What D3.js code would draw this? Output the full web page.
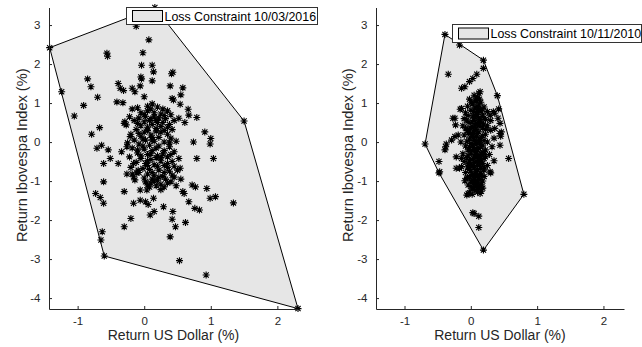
<!DOCTYPE html>
<html>
<head>
<meta charset="utf-8">
<script src="https://cdn.jsdelivr.net/npm/d3@7"></script>
<style>
  html, body { margin: 0; padding: 0; background: #fff; }
  svg { display: block; font-family: "Liberation Sans", Arial, Helvetica, sans-serif; }
</style>
</head>
<body>
<svg id="chart" width="642" height="347"></svg>
<script>
// Daily returns: US Dollar (x, %) vs Ibovespa Index (y, %)
const returns2016 = [
  [-1.42,2.42],[0.16,3.45],[1.50,0.54],[2.31,-4.27],[-0.60,-2.92],
  [-0.12,2.97],[0.07,2.62],[-0.56,2.28],[-0.55,2.20],[-0.02,2.29],[-0.04,1.97],[0.12,1.97],[0.14,1.80],
  [0.43,1.79],[0.41,1.75],[0.12,1.57],[-0.05,1.67],[-0.04,1.62],[-0.85,1.62],[-0.80,1.42],[-0.70,1.15],
  [-1.24,1.29],[-0.91,0.94],[-1.05,0.67],[-0.39,1.50],[-0.36,1.38],[-0.31,1.32],[-0.18,1.38],[-0.14,1.29],
  [-0.06,1.44],[0.00,1.16],[0.39,1.44],[0.58,1.39],[0.42,1.12],[0.44,1.08],[0.55,1.21],[0.54,0.97],
  [0.66,0.84],[0.67,0.69],[0.79,0.63],[0.52,0.61],[0.61,0.50],[0.91,0.26],[1.00,0.09],[0.99,-0.05],
  [0.74,0.00],[1.04,-0.42],[0.79,-0.42],[-0.41,1.03],[-0.32,1.01],[-0.67,0.37],[-0.79,0.20],[-0.64,-0.08],
  [-0.71,-0.16],[-0.54,-0.20],[-0.51,-0.42],[-0.61,-0.55],[-0.39,-0.55],[-0.34,-0.25],[-0.29,0.52],
  [-0.27,0.44],[-0.21,0.14],[-0.26,-0.12],
  [-0.26,-0.82],[-0.18,-0.82],[-0.11,-0.79],[-0.61,-1.02],[-0.14,-0.97],[-0.06,-1.23],[0.04,-1.23],
  [0.58,-1.27],[0.60,-1.32],[0.72,-1.10],[0.77,-1.15],[0.94,-1.19],[0.99,-1.44],[1.07,-1.40],[1.34,-1.56],
  [0.67,-1.53],[0.76,-1.70],[0.83,-1.74],[0.29,-1.66],[0.43,-1.78],[0.15,-1.78],[0.09,-1.87],[0.14,-1.44],
  [-0.06,-1.49],[0.02,-1.53],[0.06,-1.60],[-0.16,-1.57],[-0.30,-1.27],[0.42,-1.98],[0.62,-2.06],[0.47,-2.17],
  [-0.20,-1.96],[-0.30,-2.17],[0.39,-2.43],[0.53,-3.04],[0.93,-3.41],[-0.73,-1.32],[-0.66,-1.42],
  [-0.61,-1.57],[-0.63,-2.30],[-0.65,-2.51],[0.54,-0.67],[-0.16,-0.89],[-0.16,-0.55],[-0.09,-0.72],
  [0.05,0.92],[0.12,0.98],[0.20,0.90],[-0.10,0.88],[-0.18,0.85],[0.28,0.85],[0.35,0.80],[0.05,0.80],
  [-0.05,0.75],[0.15,0.75],[0.25,0.72],[0.40,0.70],[-0.22,0.65],[-0.08,0.62],[0.02,0.66],[0.22,0.62],
  [0.32,0.60],[0.45,0.55],[0.10,0.60],[-0.15,0.55],[0.00,0.52],[0.20,0.50],[0.38,0.45],[-0.30,0.48],
  [-0.05,0.42],[0.05,0.38],[0.25,0.40],[0.30,0.30],[0.42,0.32],[-0.12,0.32],[0.00,0.25],[0.18,0.28],
  [0.35,0.20],[-0.20,0.20],[-0.05,0.15],[0.10,0.18],[0.22,0.12],[0.40,0.10],[-0.15,0.05],[0.02,0.05],
  [0.15,0.02],[0.30,0.00],[0.48,0.02],[-0.25,-0.02],[-0.08,-0.05],[0.08,-0.08],[0.22,-0.10],[0.38,-0.12],
  [-0.18,-0.15],[0.00,-0.18],[0.12,-0.22],[0.30,-0.22],[0.45,-0.25],[-0.10,-0.28],[0.05,-0.32],[0.20,-0.35],
  [0.35,-0.38],[-0.22,-0.38],[-0.05,-0.42],[0.10,-0.45],[0.25,-0.48],[0.42,-0.50],[0.52,-0.42],[-0.12,-0.52],
  [0.02,-0.55],[0.15,-0.58],[0.30,-0.60],[0.45,-0.62],[-0.20,-0.65],[-0.02,-0.68],[0.08,-0.70],[0.22,-0.72],
  [0.38,-0.75],[0.50,-0.72],[-0.08,-0.78],[0.05,-0.82],[0.15,-0.85],[0.28,-0.88],[0.42,-0.85],[0.12,-0.95],
  [0.20,-0.98],[0.32,-0.95],[0.02,-1.02],[0.10,-1.05],[0.25,-1.08],[0.40,-1.02],[0.55,-0.95],[0.18,-1.12],
  [0.08,-1.15],[0.30,-1.15],[0.48,-1.12],[0.12,0.45],[0.18,0.35],[-0.02,0.08],[0.28,-0.30],[0.08,0.55],
  [0.15,0.65],[-0.10,-0.20],[0.35,-0.65],[0.18,-0.40],[0.05,-0.60],[0.12,0.12],
  [0.10,0.85],[0.00,0.70],[0.30,0.68],[0.18,0.55],[0.28,0.50],[-0.10,0.48],[0.35,0.38],[0.05,0.30],
  [0.25,0.25],[-0.08,0.22],[0.12,0.05],[0.38,-0.02],[-0.02,-0.10],[0.18,-0.15],[0.10,-0.30],[0.40,-0.32],
  [-0.05,-0.35],[0.25,-0.40],[0.05,-0.48],[0.35,-0.55],[0.20,-0.62],[0.12,-0.78],[0.30,-0.78],[0.00,-0.92],
  [0.22,-0.90],[0.15,-1.00],[0.35,-1.05],[0.05,-1.10],[0.25,-1.22],[0.45,-0.90]
];

const returns2010 = [
  [-0.39,2.76],[-0.17,2.49],[0.19,2.10],[0.19,1.89],[-0.34,1.74],[0.09,1.74],[0.03,1.63],[-0.02,1.55],
  [-0.09,1.42],[-0.14,1.38],[0.14,1.29],[0.12,1.25],[0.40,1.19],[-0.14,0.86],[-0.16,0.84],[0.42,0.85],
  [0.34,0.78],[0.29,0.69],[0.36,0.74],[-0.27,0.61],[-0.24,0.61],[-0.23,0.44],[0.41,0.61],[0.44,0.48],
  [0.36,0.35],[0.44,0.22],[0.45,0.15],[0.46,0.26],[-0.19,0.18],[-0.24,0.14],[-0.29,0.05],[-0.37,-0.05],
  [-0.38,-0.12],[-0.39,-0.20],[-0.69,-0.05],[0.44,-0.08],[0.57,-0.42],[-0.48,-0.50],[-0.47,-0.76],
  [-0.48,-0.79],[-0.22,-0.38],[-0.14,-0.42],[-0.22,-0.67],[-0.17,-0.67],[-0.14,-0.63],[0.19,-0.29],
  [0.29,-0.76],[0.30,-0.79],[-0.06,-0.93],[-0.09,-0.99],[-0.05,-0.91],[-0.06,-1.36],[-0.04,-1.32],
  [0.03,-1.81],[0.05,-1.83],[0.12,-1.90],[0.12,-2.19],[0.19,-2.77],[0.80,-1.34],
  [0.05,1.20],[0.10,1.15],[-0.02,1.10],[0.08,1.05],[0.15,1.02],[0.02,0.98],[0.12,0.95],[-0.05,0.92],
  [0.20,0.90],[0.06,0.88],[0.00,0.82],[0.15,0.80],[0.25,0.78],[-0.08,0.75],[0.08,0.72],[0.18,0.70],
  [0.03,0.66],[0.12,0.62],[-0.10,0.60],[0.22,0.58],[0.30,0.55],[0.05,0.55],[-0.03,0.50],[0.15,0.50],
  [0.10,0.45],[-0.12,0.42],[0.25,0.42],[0.02,0.40],[0.18,0.36],[0.08,0.32],[-0.05,0.30],[0.30,0.30],
  [0.12,0.26],[0.00,0.22],[0.22,0.20],[-0.10,0.18],[0.08,0.15],[0.16,0.12],[0.35,0.10],[-0.02,0.08],
  [0.05,0.04],[0.12,0.02],[0.25,0.00],[-0.15,0.00],[0.00,-0.04],[0.08,-0.06],[0.18,-0.08],[-0.08,-0.10],
  [0.32,-0.12],[0.04,-0.14],[0.12,-0.16],[-0.04,-0.20],[0.22,-0.20],[0.08,-0.24],[0.00,-0.28],[0.15,-0.30],
  [-0.12,-0.30],[0.28,-0.32],[0.05,-0.35],[0.10,-0.38],[-0.06,-0.40],[0.20,-0.42],[0.02,-0.45],[0.12,-0.48],
  [0.35,-0.48],[-0.10,-0.50],[0.06,-0.52],[0.18,-0.55],[0.00,-0.58],[0.10,-0.60],[0.25,-0.60],[-0.05,-0.64],
  [0.05,-0.66],[0.15,-0.68],[0.20,-0.72],[0.00,-0.74],[0.08,-0.76],[-0.08,-0.78],[0.14,-0.80],[0.03,-0.84],
  [0.10,-0.86],[0.20,-0.88],[-0.02,-0.90],[0.06,-0.94],[0.14,-0.96],[0.00,-1.00],[0.10,-1.02],[0.04,-1.06],
  [0.16,-1.08],[-0.04,-1.10],[0.08,-1.12],[0.12,-1.16],[0.02,-1.20],[0.18,-1.18],[0.06,-1.24],[0.10,-1.28],
  [-0.02,-1.30],[0.14,-1.32],[0.04,0.12],[0.10,0.70],[-0.01,0.35],[0.06,-0.18],[0.02,-0.62],[0.12,-0.40],
  [0.09,0.48],[0.03,0.20],[0.14,-0.02],[-0.02,-0.48],[0.07,-0.88],[0.11,0.85],
  [0.07,1.08],[0.13,1.10],[0.01,1.02],[0.09,0.92],[0.17,0.85],[0.04,0.78],[0.11,0.76],[-0.04,0.68],
  [0.06,0.64],[0.14,0.58],[0.20,0.62],[-0.06,0.56],[0.02,0.52],[0.12,0.54],[0.19,0.46],[0.06,0.42],
  [-0.08,0.36],[0.14,0.40],[0.22,0.32],[0.04,0.28],[0.10,0.22],[-0.04,0.24],[0.18,0.16],[0.02,0.14],
  [0.12,0.08],[0.20,0.04],[-0.06,0.02],[0.08,0.00],[0.03,-0.08],[0.15,-0.12],[-0.02,-0.14],[0.10,-0.20],
  [0.18,-0.26],[0.02,-0.22],[0.08,-0.32],[-0.04,-0.34],[0.14,-0.36],[0.22,-0.38],[0.04,-0.42],[0.16,-0.46],
  [0.08,-0.50],[-0.04,-0.56],[0.14,-0.58],[0.04,-0.60],[0.20,-0.64],[0.10,-0.70],[-0.02,-0.70],[0.06,-0.80],
  [0.16,-0.84],[0.00,-0.86],[0.12,-0.90],[0.04,-0.98],[0.18,-1.00],[0.08,-1.06],[0.00,-1.14],[0.14,-1.12],
  [0.04,-1.16],[0.10,-1.22],[0.16,-1.26],[0.02,-1.34]
];

const xTicks = [-1, 0, 1, 2];
const yTicks = [-4, -3, -2, -1, 0, 1, 2, 3];
const xDomain = [-1.43, 2.31];
const yDomain = [-4.28, 3.45];
const xLabel = "Return US Dollar (%)";
const yLabel = "Return Ibovespa Index (%)";
const legendLabels = ["Loss Constraint 10/03/2016", "Loss Constraint 10/11/2010"];

const svg = d3.select("#chart");
const axisColor = "#262626";

const panels = [
  { data: returns2016, label: legendLabels[0], left: 49, right: 298, yLabelX: 26.5,
    legend: { x: 126, y: 7, w: 191, h: 17 } },
  { data: returns2010, label: legendLabels[1], left: 376, right: 624, yLabelX: 353,
    legend: { x: 452, y: 24, w: 189, h: 18 } }
];

const plotTop = 7.5, plotBottom = 309;

// asterisk marker: +, x combined
const r = 3.5, d = 2.6;
const starPath = `M${-r},0H${r}M0,${-r}V${r}M${-d},${-d}L${d},${d}M${-d},${d}L${d},${-d}`;

const fmtTick = v => v < 0 ? "-" + Math.abs(v) : String(v);

panels.forEach(p => {
  const x = d3.scaleLinear().domain(xDomain).range([p.left, p.right]);
  const y = d3.scaleLinear().domain(yDomain).range([plotBottom, plotTop]);
  const g = svg.append("g");

  // convex region spanned by the observed returns
  const hull = d3.polygonHull(p.data.map(v => [x(v[0]), y(v[1])]));
  g.append("path")
    .attr("d", "M" + hull.join("L") + "Z")
    .attr("fill", "#e6e6e6")
    .attr("stroke", "#000")
    .attr("stroke-width", 1)
    .attr("stroke-linejoin", "miter");

  // observations
  g.append("g").selectAll("path")
    .data(p.data)
    .join("path")
    .attr("transform", v => `translate(${x(v[0])},${y(v[1])})`)
    .attr("d", starPath)
    .attr("fill", "none")
    .attr("stroke", "#000")
    .attr("stroke-width", 1.1);

  // x axis (ticks pointing inward)
  const xAxis = d3.axisBottom(x).tickValues(xTicks).tickSizeInner(-3).tickSizeOuter(0).tickPadding(7.5)
    .tickFormat(fmtTick);
  const gx = g.append("g").attr("transform", `translate(0,${plotBottom})`).call(xAxis);
  gx.select(".domain").attr("stroke", axisColor);
  gx.selectAll(".tick line").attr("stroke", axisColor);
  gx.selectAll(".tick text").attr("fill", axisColor).attr("font-size", 11.5)
    .attr("font-family", "Liberation Sans, Arial, sans-serif");

  // y axis (ticks pointing inward)
  const yAxis = d3.axisLeft(y).tickValues(yTicks).tickSizeInner(-3).tickSizeOuter(0).tickPadding(8.5)
    .tickFormat(fmtTick);
  const gy = g.append("g").attr("transform", `translate(${p.left},0)`).call(yAxis);
  gy.select(".domain").attr("stroke", axisColor);
  gy.selectAll(".tick line").attr("stroke", axisColor);
  gy.selectAll(".tick text").attr("fill", axisColor).attr("font-size", 11.5)
    .attr("font-family", "Liberation Sans, Arial, sans-serif");

  // axis titles
  g.append("text")
    .attr("x", (p.left + p.right) / 2).attr("y", 339.5)
    .attr("text-anchor", "middle").attr("font-size", 14).attr("fill", axisColor)
    .text(xLabel);
  g.append("text")
    .attr("transform", `translate(${p.yLabelX},${(plotTop + plotBottom) / 2 - 3}) rotate(-90)`)
    .attr("text-anchor", "middle").attr("font-size", 14.6).attr("fill", axisColor)
    .text(yLabel);

  // legend
  const L = p.legend;
  const lg = g.append("g").attr("transform", `translate(${L.x},${L.y})`);
  lg.append("rect").attr("x", 0.5).attr("y", 0.5).attr("width", L.w).attr("height", L.h)
    .attr("fill", "#fff").attr("stroke", "#333").attr("stroke-width", 1);
  lg.append("rect").attr("x", 6.5).attr("y", L.h / 2 - 5).attr("width", 30).attr("height", 11)
    .attr("fill", "#e6e6e6").attr("stroke", "#000").attr("stroke-width", 1);
  lg.append("text").attr("x", 38.5).attr("y", L.h / 2 + 1).attr("dy", "0.35em")
    .attr("font-size", 12.4).attr("fill", "#000").text(p.label);
});
</script>
</body>
</html>
